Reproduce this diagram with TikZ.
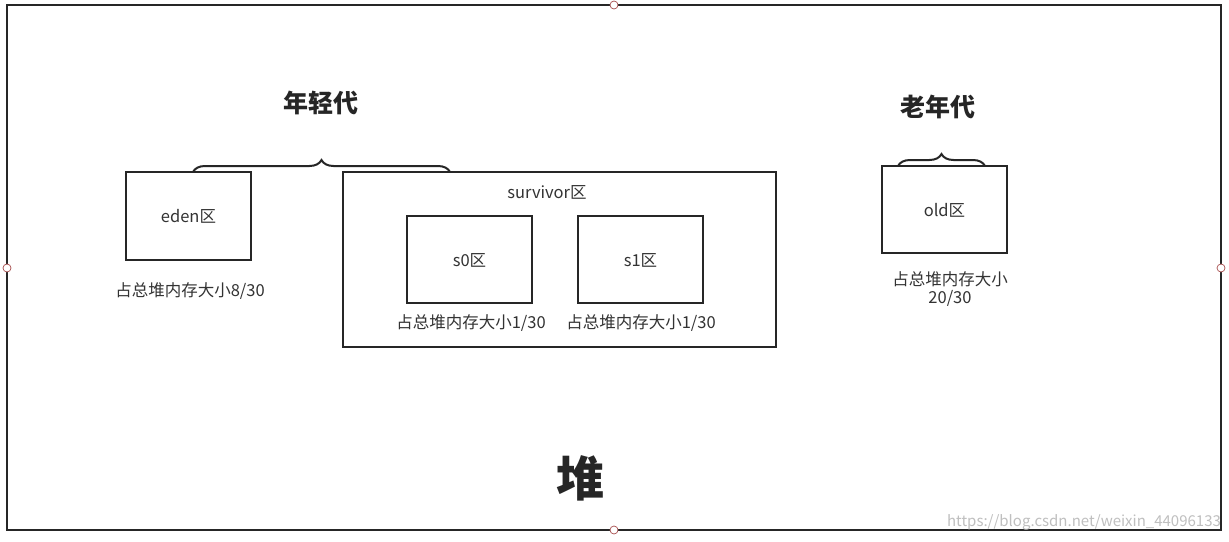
\documentclass[tikz,border=0pt]{standalone}
\usepackage{fontspec}
\setmainfont{Noto Sans CJK SC}
\usetikzlibrary{decorations.pathreplacing}
\begin{document}
\begin{tikzpicture}[x=1pt,y=-1pt,
  box/.style={draw=black!85,line width=2pt},
  lbl/.style={font=\fontsize{16.5}{20}\selectfont,text=black!80},
  ttl/.style={font=\fontsize{25}{28}\selectfont\bfseries,text=black!85},
  hdl/.style={draw=red!50!black!70,fill=white,line width=0.7pt},
  br/.style={decorate,decoration={brace,amplitude=12pt},line width=2pt,draw=black!85}]
\useasboundingbox (0,0) rectangle (1229,541);
\fill[white] (0,0) rectangle (1229,541);
\draw[box] (7,5) rectangle (1221,530);
\foreach \p in {(614,5),(7,268),(1221,268),(614,530)} \draw[hdl] \p circle (4);
% eden
\draw[box] (126,172) rectangle (251,260);
\node[lbl] (eden) at (188.5,216) {eden区};
\node[lbl] (edent) at (190,291) {占总堆内存大小8/30};
% survivor
\draw[box] (343,172) rectangle (776,347);
\node[lbl] (surv) at (547,192) {survivor区};
\draw[box] (407,216) rectangle (532,303);
\node[lbl] (s0) at (469.5,260) {s0区};
\node[lbl] (s0t) at (471,323) {占总堆内存大小1/30};
\draw[box] (578,216) rectangle (703,303);
\node[lbl] (s1) at (640.5,260) {s1区};
\node[lbl] (s1t) at (641,323) {占总堆内存大小1/30};
% old
\draw[box] (882,166) rectangle (1007,253);
\node[lbl] (old) at (944.5,210) {old区};
\node[lbl,align=center,inner sep=0pt] (oldt) at (950,289) {占总堆内存大小\\[-2pt]20/30};
% braces
\draw[br] (193,172) -- (450,172);
\node[ttl] (young) at (321,103) {年轻代};
\draw[br] (898,166) -- (985,166);
\node[ttl] (oldg) at (938,107) {老年代};
\node[font=\fontsize{48}{52}\selectfont\bfseries,text=black!85] (heap) at (580,478) {堆};
\node[font=\fontsize{15}{17}\selectfont,text=black!25] (wm) at (1084,522) {https://blog.csdn.net/weixin\_44096133};
\end{tikzpicture}
\end{document}
